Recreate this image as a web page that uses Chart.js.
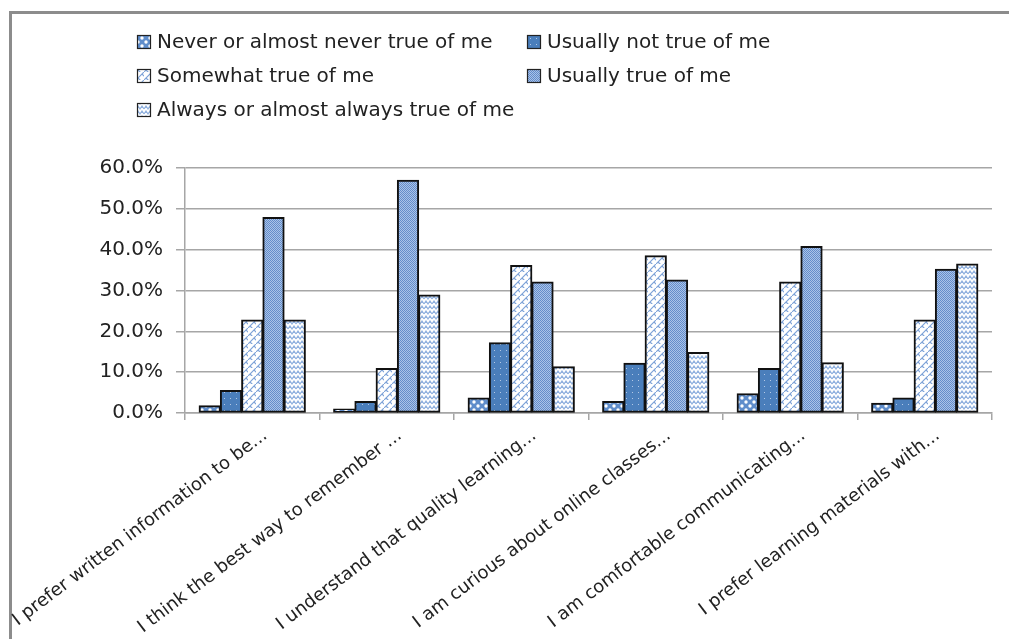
<!DOCTYPE html>
<html>
<head>
<meta charset="utf-8">
<script src="https://cdn.jsdelivr.net/npm/chart.js@4.4.1/dist/chart.umd.min.js"></script>
<style>
  html, body { margin: 0; padding: 0; background: #fff; }
  #wrap { width: 1009px; height: 639px; position: relative; }
</style>
</head>
<body>
<div id="wrap"><canvas id="surveyChart"></canvas></div>
<script>
// Data (percent)
const categories = [
  'I prefer written information to be...',
  'I think the best way to remember ...',
  'I understand that quality learning...',
  'I am curious about online classes...',
  'I am comfortable communicating...',
  'I prefer learning materials with...'
];
const seriesNames = [
  'Never or almost never true of me',
  'Usually not true of me',
  'Somewhat true of me',
  'Usually true of me',
  'Always or almost always true of me'
];
const neverTrue     = [1.8, 1.0, 3.7, 2.8, 4.7, 2.4];
const usuallyNot    = [5.5, 2.8, 17.2, 12.2, 10.9, 3.7];
const somewhatTrue  = [22.8, 10.9, 36.1, 38.5, 32.1, 22.8];
const usuallyTrue   = [47.9, 57.0, 32.1, 32.6, 40.8, 35.2];
const alwaysTrue    = [22.8, 28.9, 11.3, 14.8, 12.3, 36.5];
const yTickLabels   = ['0.0%', '10.0%', '20.0%', '30.0%', '40.0%', '50.0%', '60.0%'];

// little tile patterns, like the Excel fills
function tile(w, h, draw) {
  const c = document.createElement('canvas');
  c.width = w; c.height = h;
  const g = c.getContext('2d');
  draw(g);
  return document.getElementById('surveyChart').getContext('2d').createPattern(c, 'repeat');
}

const fillNever = tile(8, 8, g => {
  g.fillStyle = '#5f8dcb'; g.fillRect(0, 0, 8, 8);
  g.fillStyle = '#ffffff';
  g.beginPath(); g.arc(2, 2, 1.7, 0, Math.PI * 2); g.fill();
  g.beginPath(); g.arc(6, 6, 1.7, 0, Math.PI * 2); g.fill();
});
const fillUsuallyNot = tile(6, 6, g => {
  g.fillStyle = '#4a7ebb'; g.fillRect(0, 0, 6, 6);
  g.fillStyle = '#b3c8e6'; g.fillRect(2, 2, 1, 1);
});
const fillSomewhat = tile(8, 8, g => {
  g.fillStyle = '#ffffff'; g.fillRect(0, 0, 8, 8);
  g.strokeStyle = '#7ea3d8'; g.lineWidth = 1.2;
  g.beginPath();
  g.moveTo(0, 8); g.lineTo(8, 0);
  g.moveTo(2, 6); g.lineTo(6, 10);
  g.moveTo(6, 2); g.lineTo(10, 6);
  g.stroke();
});
const fillUsually = tile(2, 2, g => {
  g.fillStyle = '#aac3e8'; g.fillRect(0, 0, 2, 2);
  g.fillStyle = '#648dca'; g.fillRect(0, 0, 1, 1); g.fillRect(1, 1, 1, 1);
});
const fillAlways = tile(8, 5, g => {
  g.fillStyle = '#ffffff'; g.fillRect(0, 0, 8, 5);
  g.strokeStyle = '#8fb0de'; g.lineWidth = 1.2;
  g.beginPath();
  g.moveTo(0, 4); g.lineTo(2, 1); g.lineTo(4, 4); g.lineTo(6, 1); g.lineTo(8, 4);
  g.stroke();
});

const seriesValues = [neverTrue, usuallyNot, somewhatTrue, usuallyTrue, alwaysTrue];
const seriesFills = [fillNever, fillUsuallyNot, fillSomewhat, fillUsually, fillAlways];

const datasets = seriesNames.map((name, i) => ({
  label: name,
  data: seriesValues[i],
  backgroundColor: seriesFills[i],
  borderColor: '#111',
  borderWidth: 2,
  borderSkipped: false,
  inflateAmount: 0.5
}));

// frame lines on the left and top of the picture
const framePlugin = {
  id: 'frame',
  beforeDraw(chart) {
    const ctx = chart.ctx;
    ctx.save();
    ctx.strokeStyle = '#8c8c8c';
    ctx.lineWidth = 3;
    ctx.beginPath();
    ctx.moveTo(10.5, 639);
    ctx.lineTo(10.5, 12.5);
    ctx.lineTo(1009, 12.5);
    ctx.stroke();
    ctx.restore();
  }
};

// legend in two columns, as in the picture
const gridLegend = {
  id: 'gridLegend',
  afterDraw(chart) {
    const ctx = chart.ctx;
    ctx.save();
    chart.data.datasets.forEach((ds, i) => {
      const col = i % 2, row = Math.floor(i / 2);
      const x = col ? 527 : 137;
      const y = 42 + row * 34;
      ctx.fillStyle = ds.backgroundColor;
      ctx.fillRect(x, y - 7, 14, 14);
      ctx.strokeStyle = '#222';
      ctx.lineWidth = 1.2;
      ctx.strokeRect(x + 0.5, y - 6.5, 13, 13);
      ctx.fillStyle = '#222';
      ctx.font = '20px "DejaVu Sans"';
      ctx.textBaseline = 'middle';
      ctx.fillText(ds.label, x + 20, y + 1);
    });
    ctx.restore();
  }
};

const ctx = document.getElementById('surveyChart').getContext('2d');
new Chart(ctx, {
  type: 'bar',
  data: { labels: categories, datasets: datasets },
  options: {
    responsive: true,
    maintainAspectRatio: false,
    animation: false,
    datasets: { bar: { categoryPercentage: 0.79, barPercentage: 1.0 } },
    layout: { padding: { left: 0, top: 168, right: 17, bottom: 0 } },
    plugins: {
      legend: { display: false },
      tooltip: { enabled: false }
    },
    scales: {
      x: {
        offset: true,
        grid: { display: true, drawOnChartArea: false, drawTicks: true, tickLength: 7, color: '#a6a6a6', lineWidth: 1.5, offset: true },
        border: { color: '#a6a6a6', width: 1.5 },
        ticks: {
          autoSkip: false, minRotation: 37, maxRotation: 37, padding: 5, labelOffset: 13,
          color: '#222', font: { family: 'DejaVu Sans', size: 18 }
        },
        afterFit(s) { s.height = 226; s.paddingLeft = 0; s.paddingRight = 0; }
      },
      y: {
        min: 0, max: 60,
        grid: { color: '#a6a6a6', lineWidth: 1.5, tickLength: 9 },
        border: { color: '#a6a6a6', width: 1.5 },
        ticks: {
          stepSize: 10, padding: 13, color: '#222',
          font: { family: 'DejaVu Sans', size: 20 },
          callback: (v, i) => yTickLabels[i]
        },
        afterFit(s) { s.width = 185; }
      }
    }
  },
  plugins: [framePlugin, gridLegend]
});
</script>
</body>
</html>
